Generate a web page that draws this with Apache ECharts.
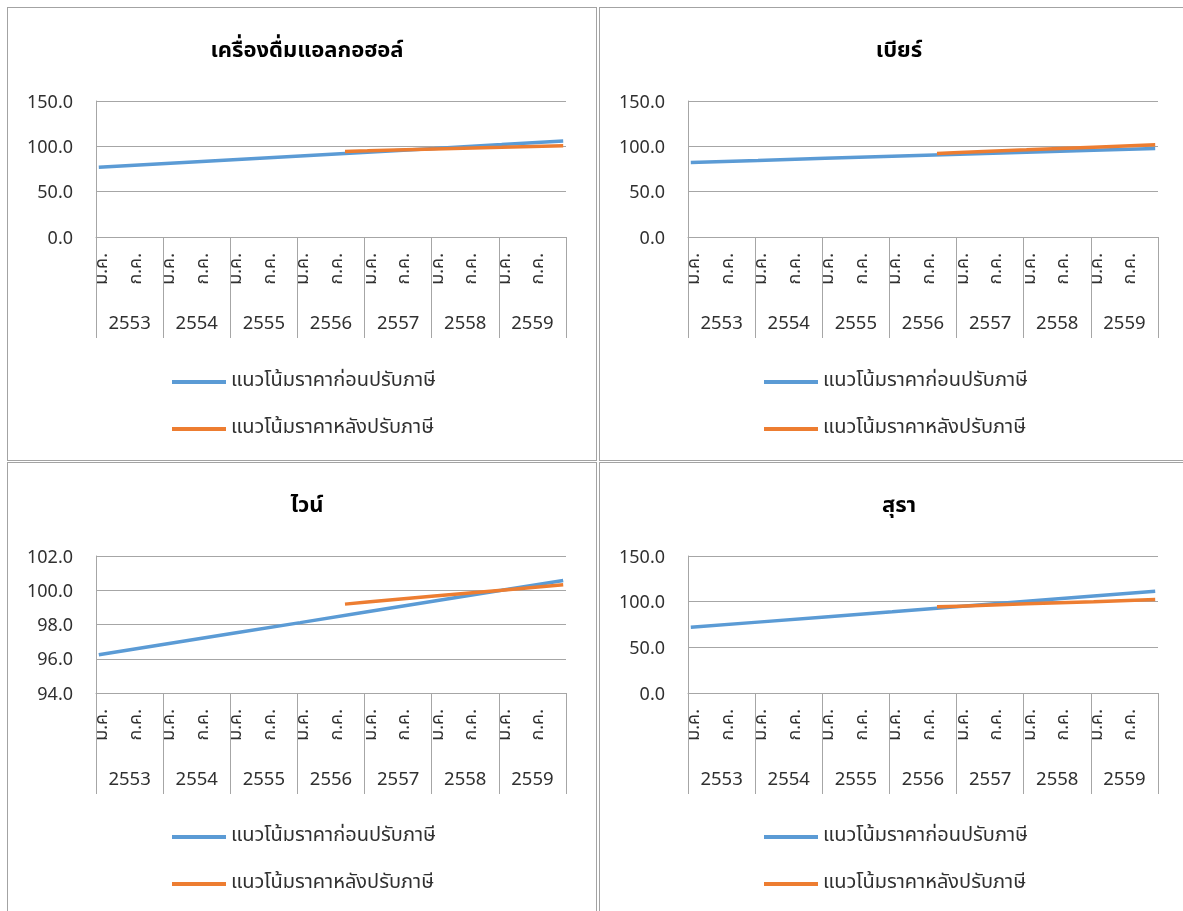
<!DOCTYPE html>
<html>
<head>
<meta charset="utf-8">
<script src="https://cdn.jsdelivr.net/npm/echarts@6/dist/echarts.min.js"></script>
<style>
  html, body { margin: 0; padding: 0; background: #fff; width: 1183px; height: 911px; overflow: hidden; }
  .panel { position: absolute; box-sizing: border-box; border: 1px solid #a3a3a3; background: #fff; }
  .chart { width: 100%; height: 100%; }
</style>
</head>
<body>
<div class="panel" style="left:7px;top:7px;width:590px;height:454px;"><div id="c0" class="chart"></div></div>
<div class="panel" style="left:599px;top:7px;width:600px;height:454px;"><div id="c1" class="chart"></div></div>
<div class="panel" style="left:7px;top:462px;width:590px;height:460px;"><div id="c2" class="chart"></div></div>
<div class="panel" style="left:599px;top:462px;width:600px;height:460px;"><div id="c3" class="chart"></div></div>
<script>
// ---- data ----
const months = ['ม.ค.','ก.พ.','มี.ค.','เม.ย.','พ.ค.','มิ.ย.','ก.ค.','ส.ค.','ก.ย.','ต.ค.','พ.ย.','ธ.ค.'];
const years = ['2553','2554','2555','2556','2557','2558','2559'];
const titles = ['เครื่องดื่มแอลกอฮอล์','เบียร์','ไวน์','สุรา'];
const seriesNames = ['แนวโน้มราคาก่อนปรับภาษี','แนวโน้มราคาหลังปรับภาษี'];

// month indices (0 = ม.ค. 2553) at which values were read
const beforeIdx = [0, 12, 24, 36, 48, 60, 72, 83];
const afterIdx = [44, 48, 60, 72, 83];

const alcoholBefore = [76.8, 81.0, 85.2, 89.4, 93.6, 97.7, 101.9, 105.8];
const alcoholAfter  = [94.4, 95.0, 97.0, 98.9, 100.7];
const beerBefore    = [82.3, 84.5, 86.8, 89.0, 91.2, 93.4, 95.7, 97.7];
const beerAfter     = [92.2, 93.2, 96.1, 99.1, 101.8];
const wineBefore    = [96.23, 96.86, 97.49, 98.11, 98.74, 99.37, 100.0, 100.57];
const wineAfter     = [99.19, 99.31, 99.66, 100.0, 100.32];
const spiritsBefore = [71.9, 77.6, 83.3, 89.0, 94.8, 100.5, 106.2, 111.4];
const spiritsAfter  = [94.3, 95.1, 97.6, 100.0, 102.3];

const yMins = [0, 0, 94, 0];
const yMaxs = [150, 150, 102, 150];
const yIntervals = [50, 50, 2, 50];

// ---- build ----
const categories = [];
years.forEach(y => months.forEach(m => categories.push(m + ' ' + y)));

function sparse(idx, vals) {
  const arr = categories.map(() => null);
  idx.forEach((i, k) => { arr[i] = vals[k]; });
  return arr;
}

const panelData = [
  [alcoholBefore, alcoholAfter],
  [beerBefore, beerAfter],
  [wineBefore, wineAfter],
  [spiritsBefore, spiritsAfter]
];

const FONT = "'Noto Sans Thai', 'Leelawadee UI', Tahoma, 'Noto Sans', sans-serif";
const GRAY = '#a6a6a6';
const TXT = '#303030';
const BLUE = '#5b9bd5';
const ORANGE = '#ed7d31';

panelData.forEach((pd, p) => {
  const chart = echarts.init(document.getElementById('c' + p), null, { renderer: 'canvas' });
  const gridHeight = p >= 2 ? 137 : 136;
  chart.setOption({
    animation: false,
    textStyle: { fontFamily: FONT },
    title: {
      text: titles[p], left: 294, textAlign: 'center', top: 29,
      textStyle: { fontFamily: FONT, fontSize: 22, fontWeight: 'bold', color: '#000' }
    },
    legend: {
      orient: 'vertical', left: 159, top: 358, padding: 5,
      itemGap: 25, itemWidth: 54, itemHeight: 4, icon: 'rect',
      textStyle: { fontFamily: FONT, fontSize: 20, color: TXT, lineHeight: 22 },
      data: seriesNames
    },
    grid: { left: 88, top: 93, width: 470, height: gridHeight, containLabel: false },
    xAxis: [
      {
        type: 'category', data: categories, boundaryGap: true, position: 'bottom',
        axisLine: { show: true, lineStyle: { color: GRAY, width: 1 } },
        axisTick: { show: false },
        splitLine: { show: false },
        axisLabel: {
          interval: function (i) { return i % 6 === 0; },
          rotate: 90, margin: 16, fontSize: 18, color: TXT, fontFamily: FONT,
          verticalAlign: 'top', lineHeight: 9,
          formatter: function (v) { return v.split(' ')[0]; }
        }
      },
      {
        type: 'category', data: years, boundaryGap: true, position: 'bottom',
        axisLine: { show: false },
        axisTick: { show: true, interval: 0, length: 101, lineStyle: { color: GRAY, width: 1 } },
        axisLabel: { interval: 0, margin: 79, fontSize: 18.5, color: TXT, fontFamily: FONT },
        splitLine: { show: false }
      }
    ],
    yAxis: {
      type: 'value', min: yMins[p], max: yMaxs[p], interval: yIntervals[p],
      axisLine: { show: true, lineStyle: { color: GRAY, width: 1 } },
      axisTick: { show: false },
      splitLine: { show: true, lineStyle: { color: GRAY, width: 1 } },
      axisLabel: {
        margin: 23, fontSize: 18, color: TXT, fontFamily: FONT,
        verticalAlign: 'top', lineHeight: 6,
        formatter: function (v) { return v.toFixed(1); }
      }
    },
    series: [
      {
        name: seriesNames[0], type: 'line', xAxisIndex: 0, data: sparse(beforeIdx, pd[0]),
        connectNulls: true, showSymbol: false, symbol: 'none',
        itemStyle: { color: BLUE }, lineStyle: { color: BLUE, width: 3.5 }
      },
      {
        name: seriesNames[1], type: 'line', xAxisIndex: 0, data: sparse(afterIdx, pd[1]),
        connectNulls: true, showSymbol: false, symbol: 'none',
        itemStyle: { color: ORANGE }, lineStyle: { color: ORANGE, width: 3.5 }
      }
    ]
  });
});
</script>
</body>
</html>
